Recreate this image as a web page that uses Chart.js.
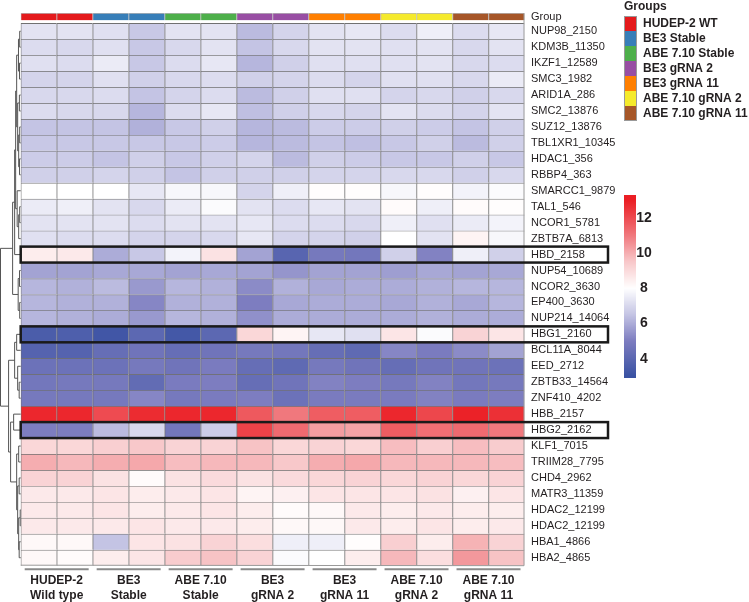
<!DOCTYPE html>
<html>
<head>
<meta charset="utf-8">
<script src="https://cdn.jsdelivr.net/npm/chart.js@4.4.1/dist/chart.umd.min.js"></script>
<style>
  html, body { margin: 0; padding: 0; background: #fff; }
</style>
</head>
<body>
<canvas id="heatmap" width="749" height="602"></canvas>
<script>
// Rows (genes / sgRNA ids), top to bottom
const rowNames = [
  'NUP98_2150', 'KDM3B_11350', 'IKZF1_12589', 'SMC3_1982', 'ARID1A_286', 'SMC2_13876',
  'SUZ12_13876', 'TBL1XR1_10345', 'HDAC1_356', 'RBBP4_363', 'SMARCC1_9879', 'TAL1_546',
  'NCOR1_5781', 'ZBTB7A_6813', 'HBD_2158', 'NUP54_10689', 'NCOR2_3630', 'EP400_3630',
  'NUP214_14064', 'HBG1_2160', 'BCL11A_8044', 'EED_2712', 'ZBTB33_14564', 'ZNF410_4202',
  'HBB_2157', 'HBG2_2162', 'KLF1_7015', 'TRIIM28_7795', 'CHD4_2962', 'MATR3_11359',
  'HDAC2_12199', 'HDAC2_12199', 'HBA1_4866', 'HBA2_4865'
];

// Samples (columns), two replicates per group
const columnIds = ['WT_1', 'WT_2', 'BE3S_1', 'BE3S_2', 'ABES_1', 'ABES_2', 'BE3g2_1', 'BE3g2_2',
  'BE3g11_1', 'BE3g11_2', 'ABEg2_1', 'ABEg2_2', 'ABEg11_1', 'ABEg11_2'];
const columnGroup = [0, 0, 1, 1, 2, 2, 3, 3, 4, 4, 5, 5, 6, 6];

const groupNames = ['HUDEP-2 WT', 'BE3 Stable', 'ABE 7.10 Stable', 'BE3 gRNA 2', 'BE3 gRNA 11',
  'ABE 7.10 gRNA 2', 'ABE 7.10 gRNA 11'];
const groupLabels = [['HUDEP-2', 'Wild type'], ['BE3', 'Stable'], ['ABE 7.10', 'Stable'],
  ['BE3', 'gRNA 2'], ['BE3', 'gRNA 11'], ['ABE 7.10', 'gRNA 2'], ['ABE 7.10', 'gRNA 11']];
const groupColors = ['#e41a1c', '#377eb8', '#4daf4a', '#984ea3', '#ff7f00', '#f5ea2c', '#a65628'];

// log2 expression, one row per gene, one value per sample
const expression = [
  [7.3, 7.3, 7.2, 6.6, 7.3, 7.3, 6.3, 6.9, 7.3, 7.4, 7.1, 7.6, 7.1, 7.4],
  [7.1, 7.0, 7.2, 6.6, 7.0, 7.3, 6.5, 7.0, 7.3, 7.3, 7.2, 7.3, 7.0, 7.3],
  [7.2, 7.1, 7.5, 6.6, 7.1, 7.4, 6.2, 6.8, 7.2, 7.2, 7.2, 7.3, 7.0, 7.1],
  [6.9, 6.9, 7.2, 6.8, 7.0, 7.1, 6.8, 6.9, 7.1, 6.9, 7.2, 7.2, 7.0, 7.5],
  [7.0, 7.0, 7.1, 6.5, 6.9, 7.1, 6.3, 6.8, 7.2, 7.2, 6.9, 7.0, 6.8, 7.0],
  [7.1, 7.0, 7.0, 6.2, 7.1, 7.4, 6.4, 6.8, 7.0, 6.9, 7.3, 7.1, 6.9, 7.3],
  [6.5, 6.5, 6.5, 6.1, 6.6, 6.8, 6.2, 6.3, 6.7, 6.7, 6.8, 6.7, 6.5, 6.8],
  [6.6, 6.6, 6.6, 6.6, 6.6, 6.7, 6.2, 6.3, 6.5, 6.4, 6.6, 6.8, 6.3, 6.8],
  [6.7, 6.7, 6.5, 6.8, 6.6, 6.8, 6.9, 6.3, 6.8, 6.7, 6.6, 6.6, 6.8, 6.6],
  [6.8, 6.8, 6.9, 6.8, 6.5, 6.8, 6.8, 6.8, 6.9, 6.9, 7.0, 7.0, 6.8, 7.0],
  [8.0, 8.0, 8.0, 7.4, 7.8, 7.8, 6.9, 7.6, 8.05, 8.05, 7.8, 8.05, 7.7, 7.9],
  [7.5, 7.6, 7.3, 7.0, 7.5, 7.9, 7.3, 7.1, 7.4, 7.3, 8.1, 7.6, 8.1, 8.05],
  [7.3, 7.3, 7.3, 7.1, 7.3, 7.3, 7.4, 7.1, 7.1, 7.0, 7.6, 7.2, 7.5, 7.7],
  [7.2, 7.1, 7.1, 6.9, 6.9, 7.0, 7.4, 6.9, 6.9, 6.8, 8.0, 7.3, 8.3, 7.8],
  [8.5, 8.6, 6.0, 6.6, 7.7, 8.8, 5.8, 3.9, 4.8, 4.7, 6.8, 5.1, 7.6, 6.8],
  [5.8, 5.8, 5.9, 5.9, 5.8, 5.9, 5.8, 5.5, 5.8, 5.8, 5.7, 5.9, 5.8, 5.9],
  [6.2, 6.1, 6.3, 5.6, 6.2, 6.1, 5.3, 6.1, 5.9, 6.0, 6.0, 6.1, 6.2, 6.2],
  [6.2, 6.1, 6.1, 5.2, 6.1, 6.1, 5.0, 5.9, 6.0, 6.0, 5.9, 6.1, 5.9, 6.2],
  [6.2, 6.1, 6.0, 5.6, 6.2, 6.1, 5.4, 6.0, 6.0, 6.0, 6.0, 6.1, 6.0, 6.0],
  [3.5, 3.6, 3.2, 4.0, 3.3, 4.0, 9.1, 8.3, 7.4, 7.2, 8.7, 7.9, 9.2, 8.7],
  [3.8, 3.8, 4.3, 4.6, 4.3, 4.6, 4.8, 4.7, 4.3, 4.1, 5.2, 4.9, 5.3, 5.8],
  [4.5, 4.5, 4.5, 4.8, 4.6, 4.9, 4.3, 4.1, 4.8, 4.6, 4.3, 4.6, 4.6, 4.5],
  [4.7, 4.8, 4.8, 4.2, 4.9, 5.0, 4.3, 4.6, 5.1, 5.0, 4.8, 5.1, 4.7, 4.8],
  [4.8, 4.8, 4.8, 5.2, 4.8, 4.9, 5.0, 4.5, 4.9, 4.9, 4.9, 5.1, 4.9, 5.0],
  [12.8, 12.8, 12.0, 12.7, 12.8, 12.8, 11.7, 11.0, 11.6, 11.6, 12.8, 12.1, 12.9, 12.6],
  [5.0, 5.0, 6.3, 7.0, 4.7, 6.7, 12.2, 11.3, 10.3, 10.2, 11.6, 11.2, 11.3, 11.0],
  [9.1, 9.1, 9.3, 9.5, 9.2, 9.2, 9.6, 9.1, 9.2, 9.1, 9.7, 9.3, 9.7, 9.4],
  [10.0, 9.8, 10.0, 10.1, 9.7, 9.8, 9.8, 9.5, 10.0, 10.1, 9.8, 9.8, 9.8, 9.7],
  [9.2, 9.2, 8.8, 8.1, 8.8, 9.0, 8.8, 9.0, 9.1, 9.2, 9.1, 9.2, 9.1, 9.2],
  [8.6, 8.6, 8.7, 8.5, 8.6, 8.7, 8.3, 8.4, 8.7, 8.7, 8.7, 8.8, 8.4, 8.7],
  [8.6, 8.6, 8.7, 8.5, 8.6, 8.7, 8.5, 8.1, 8.2, 8.6, 8.5, 8.6, 8.5, 8.5],
  [8.6, 8.6, 8.6, 8.7, 8.6, 8.6, 8.5, 8.2, 8.2, 8.6, 8.5, 8.7, 8.5, 8.6],
  [8.2, 8.2, 6.5, 8.7, 8.8, 9.2, 8.9, 7.6, 7.6, 8.05, 9.3, 8.5, 9.9, 9.2],
  [8.2, 8.1, 8.5, 8.7, 9.4, 9.6, 9.2, 7.9, 8.0, 8.5, 9.8, 8.9, 10.4, 9.6]
];

const boxedRows = [14, 19, 25];
const colorbarTicks = [4, 6, 8, 10, 12];
const colorbarRange = [2.9, 13.3];

// row dendrogram: [height, left, right], leaves are row indexes
const dendrogram = [20,
  [8,
    [6,
      [5,
        [4, [2.2, [1, 0, 1], [1.2, 2, 3]], [3, [1.3, 4, 5], [2, [1, 6, 7], [1.2, 8, 9]]]],
        [3.5, 10, [2, [1, 11, 12], 13]]],
      14],
    [2.5, [1.2, 15, 16], [1, 17, 18]]],
  [12,
    [6, [4, 19, 20], [3, 21, [1.5, 22, 23]]],
    [10, [7, 24, 25], [4, [2, 26, 27], [3, [1.5, 28, 29], [2, [0.5, 30, 31], [1.5, 32, 33]]]]]]
];

const colorStops = [
  [3, [58, 82, 163]], [5, [125, 125, 192]], [6.5, [196, 196, 228]], [8, [255, 255, 255]],
  [9.5, [248, 200, 202]], [11, [240, 120, 125]], [13, [235, 30, 36]]
];
function heatColor(v) {
  const toRgb = c => `rgb(${c.map(Math.round).join(',')})`;
  if (v <= colorStops[0][0]) return toRgb(colorStops[0][1]);
  for (let i = 1; i < colorStops.length; i++) {
    const [v1, c1] = colorStops[i];
    if (v <= v1) {
      const [v0, c0] = colorStops[i - 1];
      const t = (v - v0) / (v1 - v0);
      return toRgb(c0.map((c, k) => c + (c1[k] - c) * t));
    }
  }
  return toRgb(colorStops[colorStops.length - 1][1]);
}

const stripGap = 0.185;
const stripSize = 0.45;
const textColor = '#231f20';

const datasets = expression.map((row, r) => ({
  label: rowNames[r],
  data: row.map(() => 1),
  backgroundColor: row.map(heatColor),
  borderColor: '#707070',
  borderWidth: { top: 1, left: 1, right: 0, bottom: 0 },
  borderSkipped: false
}));
datasets.push({
  label: 'gap',
  data: columnIds.map(() => -stripGap),
  backgroundColor: 'rgba(0,0,0,0)',
  borderWidth: 0
});
datasets.push({
  label: 'Group',
  data: columnIds.map(() => -stripSize),
  backgroundColor: columnGroup.map(g => groupColors[g]),
  borderColor: '#b5b5b5',
  borderWidth: { top: 1, left: 1, right: 0, bottom: 0 },
  borderSkipped: false
});

const overlay = {
  id: 'overlay',
  afterDraw(chart) {
    const { ctx, chartArea: a, scales: { y } } = chart;
    ctx.save();

    // outer right / bottom frame of the heatmap
    ctx.strokeStyle = '#9a9a9a';
    ctx.lineWidth = 1;
    ctx.beginPath();
    ctx.moveTo(a.right - 0.5, a.top);
    ctx.lineTo(a.right - 0.5, a.bottom);
    ctx.lineTo(a.left, a.bottom - 0.5);
    ctx.stroke();

    // dendrogram
    const hx = h => 0.5 + (a.left - 0.5) * (1 - h / dendrogram[0]);
    ctx.strokeStyle = '#555';
    ctx.lineWidth = 1;
    ctx.beginPath();
    const walk = node => {
      if (typeof node === 'number') return { y: y.getPixelForValue(node + 0.5), h: 0 };
      const [h, l, r] = node;
      const L = walk(l), R = walk(r), xp = hx(h);
      ctx.moveTo(hx(L.h), L.y); ctx.lineTo(xp, L.y);
      ctx.moveTo(hx(R.h), R.y); ctx.lineTo(xp, R.y);
      ctx.moveTo(xp, L.y); ctx.lineTo(xp, R.y);
      return { y: (L.y + R.y) / 2, h };
    };
    walk(dendrogram);
    ctx.stroke();

    // boxed rows
    ctx.strokeStyle = '#1a1a1a';
    ctx.lineWidth = 2.5;
    boxedRows.forEach(r => {
      const y0 = y.getPixelForValue(r), y1 = y.getPixelForValue(r + 1);
      ctx.strokeRect(a.left, y0, 608 - a.left, y1 - y0);
    });

    // group brackets under the columns
    const colW = (a.right - a.left) / columnIds.length;
    ctx.strokeStyle = '#8a8a8a';
    ctx.lineWidth = 2;
    ctx.beginPath();
    groupLabels.forEach((_, g) => {
      ctx.moveTo(a.left + 2 * g * colW + 4, a.bottom + 3.5);
      ctx.lineTo(a.left + (2 * g + 2) * colW - 4, a.bottom + 3.5);
    });
    ctx.stroke();

    // group legend
    ctx.fillStyle = textColor;
    ctx.textBaseline = 'middle';
    ctx.textAlign = 'left';
    ctx.font = 'bold 12px "Liberation Sans", Arial, sans-serif';
    ctx.fillText('Groups', 624, 7);
    groupNames.forEach((name, i) => {
      ctx.fillStyle = groupColors[i];
      ctx.fillRect(624, 16 + i * 15, 13, 15);
      ctx.fillStyle = textColor;
      ctx.fillText(name, 643, 23.5 + i * 15);
    });
    ctx.strokeStyle = '#999';
    ctx.lineWidth = 1;
    ctx.strokeRect(624.5, 16.5, 12, groupNames.length * 15 - 1);

    // colour bar
    const cbTop = 195, cbBottom = 378, cbX = 624, cbW = 12;
    const [cbMin, cbMax] = colorbarRange;
    const cbY = v => cbTop + (cbMax - v) / (cbMax - cbMin) * (cbBottom - cbTop);
    for (let py = cbTop; py < cbBottom; py++) {
      const v = cbMax - (py + 0.5 - cbTop) / (cbBottom - cbTop) * (cbMax - cbMin);
      ctx.fillStyle = heatColor(v);
      ctx.fillRect(cbX, py, cbW, 1);
    }
    ctx.fillStyle = textColor;
    ctx.textAlign = 'center';
    ctx.font = 'bold 14px "Liberation Sans", Arial, sans-serif';
    colorbarTicks.forEach(t => ctx.fillText(String(t), 644, cbY(t)));

    ctx.restore();
  }
};

new Chart(document.getElementById('heatmap'), {
  type: 'bar',
  data: { labels: columnIds, datasets },
  options: {
    responsive: false,
    animation: false,
    events: [],
    layout: { padding: { left: 20.7, top: 3, right: 0, bottom: 0 } },
    plugins: { legend: { display: false }, tooltip: { enabled: false } },
    datasets: { bar: { barPercentage: 1, categoryPercentage: 1 } },
    scales: {
      x: { type: 'category', stacked: true, display: false, offset: true },
      x2: {
        type: 'category',
        labels: groupLabels,
        position: 'bottom',
        offset: true,
        grid: { display: false, drawTicks: false },
        border: { display: false },
        ticks: {
          color: textColor,
          font: { family: '"Liberation Sans", Arial, sans-serif', size: 12, weight: 'bold', lineHeight: 1.25 },
          padding: 7,
          maxRotation: 0,
          autoSkip: false
        },
        afterFit: s => { s.height = 36.3; }
      },
      y: {
        type: 'linear',
        stacked: true,
        reverse: true,
        min: -(stripGap + stripSize),
        max: rowNames.length,
        position: 'right',
        grid: { display: false, drawTicks: false },
        border: { display: false },
        afterBuildTicks: s => {
          s.ticks = [{ value: -(stripGap + stripSize / 2) }].concat(rowNames.map((_, i) => ({ value: i + 0.5 })));
        },
        ticks: {
          autoSkip: false,
          color: textColor,
          padding: 6.5,
          font: { family: '"Liberation Sans", Arial, sans-serif', size: 11 },
          callback: v => v < 0 ? 'Group' : rowNames[Math.floor(v)]
        },
        afterFit: s => { s.width = 224.5; }
      }
    }
  },
  plugins: [overlay]
});
</script>
</body>
</html>
